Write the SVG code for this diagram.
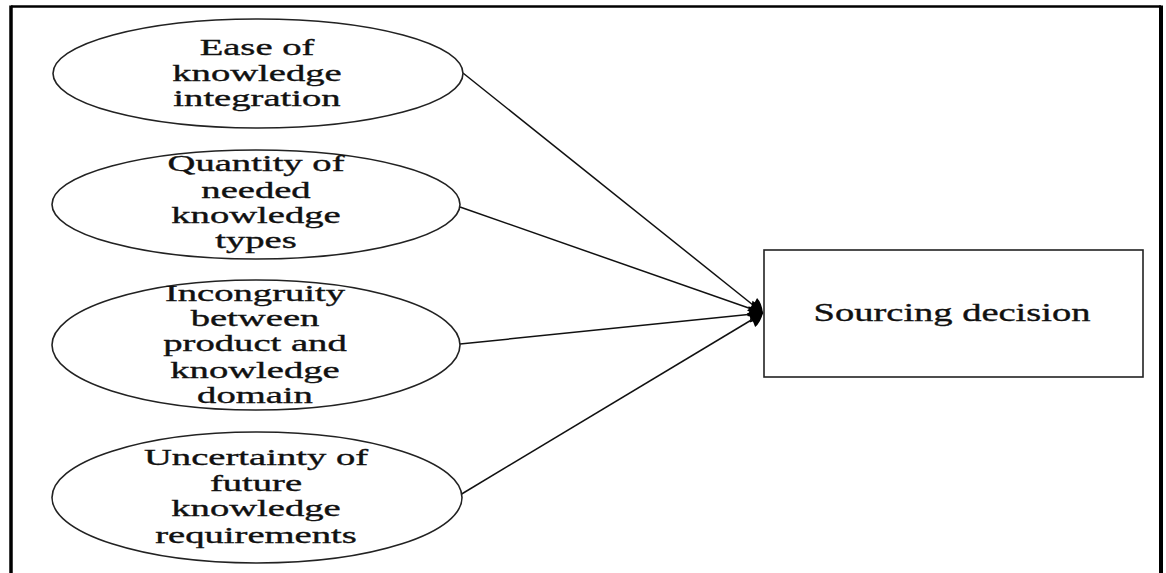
<svg xmlns="http://www.w3.org/2000/svg" width="1166" height="573" viewBox="0 0 1166 573">
  <style>
    .frame { fill: none; stroke: #000; }
    .node { fill: #fff; stroke: #222; stroke-width: 1.6; }
    .lbl { font-family: "Liberation Serif", "Times New Roman", serif; font-size: 23px; fill: #111; stroke: #111; stroke-width: 0.35; text-anchor: middle; }
    .big { font-size: 25px; }
    .edge { stroke: #111; stroke-width: 1.5; fill: none; marker-end: url(#head); }
  </style>
  <defs>
    <marker id="head" markerUnits="userSpaceOnUse" markerWidth="20" markerHeight="20" refX="16" refY="10" orient="auto">
      <path d="M2,2 Q9,3 16,10 Q9,17 2,18 Q4,10 2,2 z" fill="#000"/>
    </marker>
  </defs>

  <rect width="1166" height="573" fill="#fff"/>

  <!-- outer frame (bottom edge runs off the page) -->
  <g id="frame">
    <line class="frame" x1="11" y1="6.5" x2="1161" y2="6.5" stroke-width="2.5"/>
    <line class="frame" x1="11" y1="5.5" x2="11" y2="573" stroke-width="3.5"/>
    <line class="frame" x1="1161" y1="5.5" x2="1161" y2="573" stroke-width="4"/>
  </g>

  <!-- connectors -->
  <g id="connectors">
    <line class="edge" x1="463" y1="73" x2="763" y2="313"/>
    <line class="edge" x1="460" y1="207" x2="763" y2="313"/>
    <line class="edge" x1="460" y1="344" x2="763" y2="313"/>
    <line class="edge" x1="460" y1="495" x2="763" y2="313"/>
  </g>

  <g id="ease">
    <ellipse class="node" cx="258" cy="73.5" rx="205" ry="54.5"/>
    <g transform="translate(257,0) scale(1.68,1)">
      <text class="lbl" x="0" y="55">Ease of</text>
      <text class="lbl" x="0" y="81.5">knowledge</text>
      <text class="lbl" x="0" y="106.5">integration</text>
    </g>
  </g>

  <g id="quantity">
    <ellipse class="node" cx="256" cy="204.5" rx="204" ry="54.5"/>
    <g transform="translate(256,0) scale(1.68,1)">
      <text class="lbl" x="0" y="171.5">Quantity of</text>
      <text class="lbl" x="0" y="198">needed</text>
      <text class="lbl" x="0" y="223">knowledge</text>
      <text class="lbl" x="0" y="248">types</text>
    </g>
  </g>

  <g id="incongruity">
    <ellipse class="node" cx="256" cy="345" rx="204" ry="65"/>
    <g transform="translate(255,0) scale(1.68,1)">
      <text class="lbl" x="0" y="301.5">Incongruity</text>
      <text class="lbl" x="0" y="326.5">between</text>
      <text class="lbl" x="0" y="351.5">product and</text>
      <text class="lbl" x="0" y="378">knowledge</text>
      <text class="lbl" x="0" y="403">domain</text>
    </g>
  </g>

  <g id="uncertainty">
    <ellipse class="node" cx="257" cy="497.5" rx="205" ry="65.5"/>
    <g transform="translate(256,0) scale(1.68,1)">
      <text class="lbl" x="0" y="465">Uncertainty of</text>
      <text class="lbl" x="0" y="491.5">future</text>
      <text class="lbl" x="0" y="516.5">knowledge</text>
      <text class="lbl" x="0" y="543">requirements</text>
    </g>
  </g>

  <g id="sourcing">
    <rect class="node" x="764" y="250" width="379" height="127"/>
    <g transform="translate(952,0) scale(1.54,1)">
      <text class="lbl big" x="0" y="321.5">Sourcing decision</text>
    </g>
  </g>
</svg>
